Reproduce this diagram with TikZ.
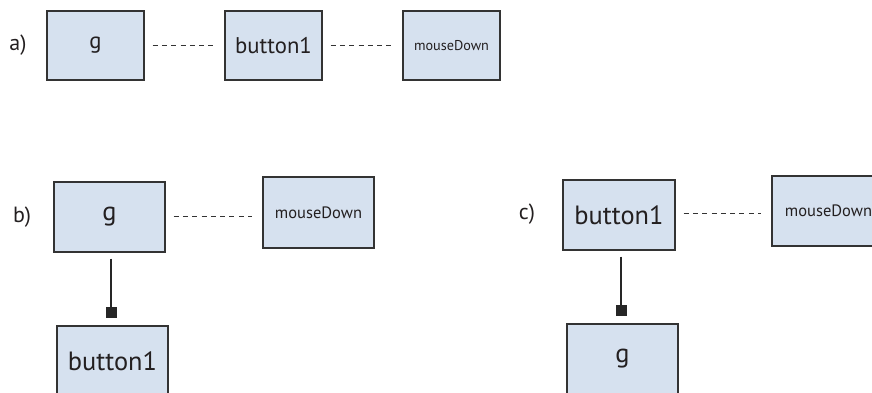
\documentclass[tikz,border=0pt]{standalone}
\usepackage{fontspec}
\setmainfont{PT Sans}
\usetikzlibrary{arrows.meta}
\definecolor{boxfill}{HTML}{D6E1EF}
\definecolor{boxline}{HTML}{333333}
\definecolor{txt}{HTML}{231F20}
\tikzset{
  obj/.style={draw=boxline, fill=boxfill, line width=1.3pt, inner sep=0pt, text=txt, font=\fontsize{22.7}{24}\selectfont},
  bigobj/.style={obj, font=\fontsize{26.4}{28}\selectfont},
  smallobj/.style={obj, font=\fontsize{14.2}{16}\selectfont},
  midobj/.style={obj, font=\fontsize{16.5}{18}\selectfont},
  lbl/.style={font=\fontsize{22}{24}\selectfont, inner sep=0pt, text=txt},
  dashlink/.style={draw=boxline, line width=1pt, dash pattern=on 5pt off 4.3pt, shorten <=8pt, shorten >=10pt},
  solidlink/.style={draw=black!85, line width=1.2pt, shorten <=6pt, shorten >=7pt, -{Square[length=11pt,width=11pt]}}
}
\begin{document}
\begin{tikzpicture}[x=1pt,y=-1pt]
\useasboundingbox (0,0) rectangle (872,392);
\clip (0,0) rectangle (872,392);
% row a
\node[lbl] (la) at (18,45) {a)};
\node[obj, minimum width=97pt, minimum height=69pt] (ag) at (95.5,45.5) {g};
\node[obj, minimum width=97pt, minimum height=69pt] (ab) at (273.5,45.5) {button1};
\node[smallobj, minimum width=97pt, minimum height=69pt] (am) at (451.5,45.5) {mouseDown};
\draw[dashlink] (ag) -- (ab);
\draw[dashlink] (ab) -- (am);
% row b
\node[lbl] (lb) at (22,217) {b)};
\node[bigobj, minimum width=111pt, minimum height=70pt] (bg) at (109.5,217) {g};
\node[midobj, minimum width=111pt, minimum height=71pt] (bm) at (318.5,212.5) {mouseDown};
\node[bigobj, minimum width=111pt, minimum height=70pt] (bb) at (112.5,361) {button1};
\draw[dashlink] (bg.east |- 0,216) -- (bm.west |- 0,216);
\draw[solidlink] (bg.south -| 111,0) -- (bb.north -| 111,0);
% row c
\node[lbl] (lc) at (527,214) {c)};
\node[bigobj, minimum width=112pt, minimum height=70pt] (cb) at (619,215) {button1};
\node[midobj, minimum width=113pt, minimum height=70pt] (cm) at (828.5,211) {mouseDown};
\node[bigobj, minimum width=111pt, minimum height=70pt] (cg) at (622.5,359) {g};
\draw[dashlink] (cb.east |- 0,213) -- (cm.west |- 0,213);
\draw[solidlink] (cb.south -| 621,0) -- (cg.north -| 621,0);
\end{tikzpicture}
\end{document}
